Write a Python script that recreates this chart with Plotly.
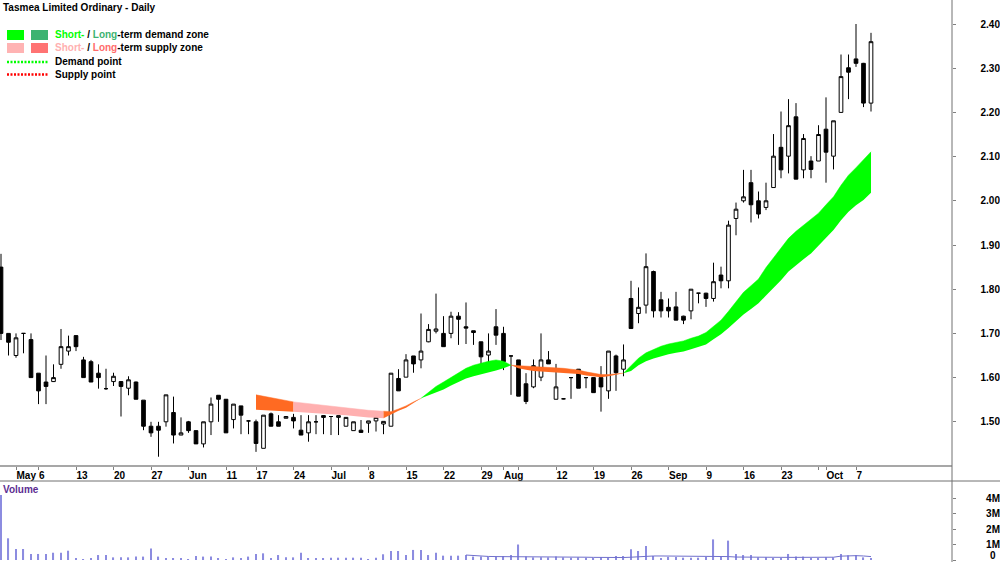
import plotly.graph_objects as go
import pandas as pd

# ---------------- data ----------------
dates = [d.strftime('%Y-%m-%d') for d in pd.bdate_range('2019-04-29', '2019-10-09')
         if d.strftime('%Y-%m-%d') != '2019-06-10']

open_ = [1.85, 1.70, 1.65, 1.70, 1.686, 1.61, 1.59, 1.591, 1.63, 1.66,
         1.695, 1.64, 1.636, 1.61, 1.575, 1.591, 1.591, 1.576, 1.59, 1.549,
         1.49, 1.49, 1.50, 1.521, 1.47, 1.50, 1.48, 1.45, 1.50, 1.56,
         1.551, 1.505, 1.536, 1.502, 1.50, 1.44, 1.518, 1.50, 1.508, 1.51,
         1.481, 1.475, 1.50, 1.514, 1.512, 1.51, 1.49, 1.48, 1.481, 1.497,
         1.502, 1.495, 1.49, 1.598, 1.601, 1.649, 1.64, 1.681, 1.705, 1.70,
         1.70, 1.739, 1.715, 1.706, 1.681, 1.651, 1.715, 1.70, 1.649, 1.64,
         1.586, 1.579, 1.601, 1.64, 1.551, 1.552, 1.60, 1.619, 1.60, 1.60,
         1.60, 1.57, 1.649, 1.619, 1.779, 1.745, 1.764, 1.84, 1.776, 1.759,
         1.76, 1.739, 1.751, 1.791, 1.791, 1.779, 1.832, 1.819, 1.96, 2.00,
         2.041, 2.00, 1.985, 2.03, 2.121, 2.101, 2.19, 2.07, 2.09, 2.09,
         2.162, 2.101, 2.20, 2.301, 2.321, 2.311, 2.221]
high = [1.88, 1.70, 1.70, 1.70, 1.70, 1.61, 1.65, 1.63, 1.71, 1.695,
        1.695, 1.647, 1.64, 1.63, 1.62, 1.611, 1.592, 1.603, 1.591, 1.549,
        1.50, 1.50, 1.561, 1.557, 1.51, 1.502, 1.48, 1.50, 1.555, 1.56,
        1.551, 1.54, 1.536, 1.502, 1.505, 1.515, 1.521, 1.515, 1.512, 1.518,
        1.515, 1.515, 1.515, 1.515, 1.512, 1.514, 1.51, 1.50, 1.504, 1.502,
        1.51, 1.501, 1.61, 1.619, 1.653, 1.649, 1.745, 1.721, 1.79, 1.739,
        1.749, 1.748, 1.77, 1.706, 1.681, 1.70, 1.755, 1.715, 1.649, 1.64,
        1.61, 1.641, 1.70, 1.66, 1.631, 1.553, 1.60, 1.619, 1.60, 1.60,
        1.626, 1.66, 1.652, 1.675, 1.819, 1.804, 1.881, 1.842, 1.794, 1.779,
        1.794, 1.74, 1.80, 1.791, 1.792, 1.86, 1.851, 1.955, 1.996, 2.07,
        2.07, 2.021, 2.041, 2.151, 2.202, 2.23, 2.221, 2.151, 2.101, 2.171,
        2.234, 2.181, 2.331, 2.331, 2.40, 2.312, 2.38]
low = [1.685, 1.65, 1.645, 1.655, 1.60, 1.54, 1.54, 1.59, 1.62, 1.65,
       1.66, 1.60, 1.59, 1.575, 1.572, 1.581, 1.512, 1.56, 1.551, 1.481,
       1.466, 1.421, 1.489, 1.451, 1.47, 1.475, 1.45, 1.442, 1.47, 1.50,
       1.475, 1.485, 1.472, 1.472, 1.432, 1.44, 1.49, 1.49, 1.508, 1.485,
       1.47, 1.455, 1.472, 1.472, 1.47, 1.47, 1.49, 1.48, 1.476, 1.475,
       1.478, 1.472, 1.49, 1.57, 1.601, 1.611, 1.621, 1.68, 1.70, 1.67,
       1.689, 1.674, 1.676, 1.674, 1.627, 1.627, 1.674, 1.617, 1.561, 1.558,
       1.54, 1.576, 1.592, 1.631, 1.551, 1.551, 1.552, 1.576, 1.576, 1.566,
       1.523, 1.552, 1.57, 1.603, 1.711, 1.723, 1.745, 1.736, 1.736, 1.736,
       1.73, 1.721, 1.732, 1.768, 1.76, 1.772, 1.802, 1.802, 1.922, 1.996,
       1.951, 1.96, 1.979, 2.03, 2.051, 2.062, 2.049, 2.051, 2.051, 2.09,
       2.041, 2.071, 2.20, 2.23, 2.303, 2.212, 2.202]
close = [1.70, 1.68, 1.69, 1.70, 1.60, 1.57, 1.58, 1.60, 1.67, 1.67,
         1.67, 1.60, 1.59, 1.60, 1.575, 1.603, 1.58, 1.595, 1.551, 1.49,
         1.475, 1.481, 1.561, 1.47, 1.475, 1.48, 1.45, 1.50, 1.54, 1.551,
         1.475, 1.54, 1.515, 1.502, 1.451, 1.515, 1.49, 1.49, 1.512, 1.502,
         1.47, 1.50, 1.50, 1.51, 1.512, 1.514, 1.51, 1.50, 1.476, 1.502,
         1.51, 1.501, 1.61, 1.57, 1.64, 1.631, 1.66, 1.709, 1.71, 1.67,
         1.739, 1.732, 1.712, 1.702, 1.647, 1.66, 1.696, 1.636, 1.649, 1.558,
         1.546, 1.627, 1.64, 1.631, 1.579, 1.552, 1.60, 1.576, 1.60, 1.566,
         1.579, 1.66, 1.611, 1.64, 1.711, 1.759, 1.851, 1.751, 1.751, 1.751,
         1.73, 1.73, 1.80, 1.791, 1.779, 1.817, 1.819, 1.945, 1.981, 2.009,
         1.991, 1.97, 2.00, 2.101, 2.07, 2.17, 2.049, 2.141, 2.071, 2.15,
         2.11, 2.181, 2.281, 2.291, 2.311, 2.221, 2.36]

# volume in millions of shares
volume_m = [4.2, 1.4, 0.71, 0.71, 0.39, 0.39, 0.39, 0.47, 0.47, 0.60,
            0.11, 0.06, 0.11, 0.32, 0.32, 0.17, 0.17, 0.17, 0.22, 0.22,
            0.75, 0.22, 0.11, 0.08, 0.08, 0.05, 0.26, 0.22, 0.22, 0.11,
            0.06, 0.17, 0.08, 0.22, 0.39, 0.43, 0.11, 0.32, 0.17, 0.17,
            0.47, 0.11, 0.08, 0.08, 0.15, 0.15, 0.15, 0.15, 0.15, 0.05,
            0.15, 0.37, 0.58, 0.58, 0.32, 0.65, 0.65, 0.32, 0.47, 0.28,
            0.28, 0.28, 0.32, 0.22, 0.22, 0.22, 0.22, 0.26, 0.32, 1.0,
            0.22, 0.17, 0.17, 0.17, 0.22, 0.17, 0.15, 0.17, 0.15, 0.15,
            0.17, 0.15, 0.26, 0.26, 0.69, 0.58, 0.90, 0.26, 0.11, 0.20,
            0.20, 0.15, 0.15, 0.15, 0.20, 1.33, 0.20, 1.25, 0.39, 0.32,
            0.32, 0.17, 0.17, 0.11, 0.11, 0.39, 0.22, 0.22, 0.11, 0.11,
            0.17, 0.17, 0.39, 0.30, 0.30, 0.17, 0.11]
vol_avg_start = '2019-07-25'
vol_avg_m = [0.32, 0.28, 0.25, 0.23, 0.22, 0.22, 0.21, 0.22, 0.22, 0.21,
             0.21, 0.20, 0.20, 0.20, 0.19, 0.19, 0.18, 0.17, 0.16, 0.16,
             0.16, 0.16, 0.18, 0.22, 0.25, 0.26, 0.26, 0.26, 0.26, 0.26,
             0.26, 0.26, 0.26, 0.26, 0.26, 0.22, 0.19, 0.18, 0.17, 0.17,
             0.17, 0.17, 0.17, 0.17, 0.17, 0.17, 0.17, 0.17, 0.17, 0.18,
             0.25, 0.28, 0.28, 0.26, 0.22]

# demand / supply zone boundaries (from 2019-06-17 to 2019-10-09)
zone_start = '2019-06-17'
zone_upper = [1.561, 1.558, 1.555, 1.552, 1.548, 1.545, 1.543, 1.541, 1.539, 1.537,
              1.535, 1.534, 1.532, 1.530, 1.528, 1.526, 1.525, 1.524, 1.523, 1.529,
              1.536, 1.545, 1.553, 1.566, 1.580, 1.590, 1.601, 1.612, 1.621, 1.628,
              1.633, 1.637, 1.640, 1.637, 1.628, 1.627, 1.627, 1.626, 1.625, 1.624,
              1.623, 1.621, 1.619, 1.617, 1.613, 1.610, 1.607, 1.607, 1.609, 1.610,
              1.626, 1.644, 1.656, 1.664, 1.671, 1.676, 1.680, 1.683, 1.689, 1.694,
              1.702, 1.716, 1.730, 1.750, 1.771, 1.793, 1.808, 1.823, 1.849, 1.871,
              1.892, 1.915, 1.931, 1.945, 1.957, 1.972, 1.991, 2.009, 2.035, 2.058,
              2.075, 2.092, 2.111]
zone_lower = [1.527, 1.526, 1.526, 1.525, 1.524, 1.523, 1.522, 1.521, 1.520, 1.519,
              1.518, 1.517, 1.515, 1.513, 1.511, 1.510, 1.509, 1.508, 1.517, 1.525,
              1.532, 1.542, 1.553, 1.560, 1.567, 1.573, 1.582, 1.590, 1.598, 1.603,
              1.607, 1.612, 1.616, 1.621, 1.628, 1.621, 1.618, 1.615, 1.614, 1.613,
              1.612, 1.611, 1.610, 1.608, 1.605, 1.603, 1.601, 1.603, 1.606, 1.610,
              1.615, 1.628, 1.637, 1.643, 1.648, 1.653, 1.656, 1.659, 1.664, 1.669,
              1.675, 1.687, 1.698, 1.712, 1.727, 1.743, 1.755, 1.768, 1.786, 1.803,
              1.820, 1.840, 1.855, 1.868, 1.881, 1.898, 1.917, 1.934, 1.956, 1.975,
              1.990, 2.002, 2.018]
zone_segments = [('2019-06-17', '2019-06-24', 'long_supply'),
                 ('2019-06-24', '2019-07-10', 'short_supply'),
                 ('2019-07-10', '2019-07-17', 'long_supply'),
                 ('2019-07-17', '2019-08-02', 'demand'),
                 ('2019-08-02', '2019-08-23', 'long_supply'),
                 ('2019-08-23', '2019-10-09', 'demand')]

tick_dates = ['2019-05-01', '2019-05-06', '2019-05-13', '2019-05-20', '2019-05-27',
              '2019-06-03', '2019-06-11', '2019-06-17', '2019-06-24', '2019-07-01',
              '2019-07-08', '2019-07-15', '2019-07-22', '2019-07-29', '2019-08-01',
              '2019-08-05', '2019-08-12', '2019-08-19', '2019-08-26', '2019-09-02',
              '2019-09-09', '2019-09-16', '2019-09-23', '2019-09-30', '2019-10-01',
              '2019-10-07']
tick_labels = ['May', '6', '13', '20', '27', 'Jun', '11', '17', '24', 'Jul',
               '8', '15', '22', '29', 'Aug', '', '12', '19', '26', 'Sep',
               '9', '16', '23', '', 'Oct', '7']
price_ticks = [1.50, 1.60, 1.70, 1.80, 1.90, 2.00, 2.10, 2.20, 2.30, 2.40]
volume_ticks = [0, 1, 2, 3, 4]
volume_tick_labels = ['0', '1M', '2M', '3M', '4M']

# ---------------- styling ----------------
FONT = 'Liberation Sans, Arial, sans-serif'
FS = 10
W, H = 1000, 562
zone_colors = {'long_supply': '#ff6a22', 'short_supply': '#ffb0b0', 'demand': '#00ff00'}


def px(x):
    return x / W


def py(y):
    return 1 - y / H


PRICE_RANGE = [1.40, 2.4543]
VOL_RANGE = [-0.129, 5.097]

fig = go.Figure()

# zone bands
z0 = dates.index(zone_start)
zone_dates = dates[z0:z0 + len(zone_upper)]
for s, e, kind in zone_segments:
    a, b = zone_dates.index(s), zone_dates.index(e) + 1
    xs = zone_dates[a:b]
    lo = [min(u, l) for u, l in zip(zone_upper[a:b], zone_lower[a:b])]
    hi = [max(u, l) for u, l in zip(zone_upper[a:b], zone_lower[a:b])]
    fig.add_trace(go.Scatter(x=xs, y=lo, mode='lines', line=dict(width=0, color=zone_colors[kind]),
                             hoverinfo='skip', xaxis='x', yaxis='y'))
    fig.add_trace(go.Scatter(x=xs, y=hi, mode='lines', line=dict(width=0.5, color=zone_colors[kind]),
                             fill='tonexty', fillcolor=zone_colors[kind],
                             hoverinfo='skip', xaxis='x', yaxis='y'))

# candles
fig.add_trace(go.Candlestick(
    x=dates, open=open_, high=high, low=low, close=close,
    increasing=dict(fillcolor='white', line=dict(color='black', width=1)),
    decreasing=dict(fillcolor='black', line=dict(color='black', width=1)),
    whiskerwidth=0, xaxis='x', yaxis='y'))

# volume
fig.add_trace(go.Bar(x=dates, y=volume_m, width=0.15, marker=dict(color='#8c8ce0', line=dict(width=0)),
                     xaxis='x', yaxis='y2'))
va = dates.index(vol_avg_start)
fig.add_trace(go.Scatter(x=dates[va:va + len(vol_avg_m)], y=vol_avg_m, mode='lines',
                         line=dict(color='#7070cc', width=1), xaxis='x', yaxis='y2'))

# invisible traces so the label axes render
fig.add_trace(go.Scatter(x=[dates[0]], y=[2.0], mode='markers', marker=dict(opacity=0),
                         hoverinfo='skip', xaxis='x', yaxis='y3'))
fig.add_trace(go.Scatter(x=[dates[0]], y=[1.0], mode='markers', marker=dict(opacity=0),
                         hoverinfo='skip', xaxis='x', yaxis='y4'))

tickfont = dict(family=FONT, size=FS, color='black', weight='bold')

fig.update_layout(
    width=W, height=H, margin=dict(l=0, r=0, t=0, b=0),
    paper_bgcolor='white', plot_bgcolor='white', showlegend=False,
    xaxis=dict(type='category', categoryorder='array', categoryarray=dates,
               domain=[0, px(952)], range=[-0.133, 126.8], anchor='y',
               tickmode='array', tickvals=tick_dates, ticktext=tick_labels,
               ticks='outside', ticklen=3, tickcolor='#808080', tickwidth=1,
               ticklabelposition='outside right', tickfont=tickfont, tickangle=0,
               showgrid=False, zeroline=False, showline=False,
               rangeslider=dict(visible=False)),
    yaxis=dict(domain=[py(466), 1], range=PRICE_RANGE, side='right', anchor='x',
               tickmode='array', tickvals=price_ticks, ticks='outside', ticklen=3,
               tickcolor='#808080', showticklabels=False, showgrid=False, zeroline=False,
               showline=False),
    yaxis2=dict(domain=[0, py(481)], range=VOL_RANGE, side='right', anchor='x',
                tickmode='array', tickvals=volume_ticks, ticks='outside', ticklen=3,
                tickcolor='#808080', showticklabels=False, showgrid=False, zeroline=False,
                showline=False),
    yaxis3=dict(overlaying='y', anchor='free', position=1.0, side='left', range=PRICE_RANGE,
                tickmode='array', tickvals=price_ticks,
                ticktext=['%.2f' % v for v in price_ticks], ticks='', tickfont=tickfont,
                showgrid=False, zeroline=False, showline=False, automargin=False),
    yaxis4=dict(overlaying='y2', anchor='free', position=1.0, side='left', range=VOL_RANGE,
                tickmode='array', tickvals=volume_ticks[1:], ticktext=volume_tick_labels[1:],
                ticks='', tickfont=tickfont,
                showgrid=False, zeroline=False, showline=False, automargin=False),
)

shapes = [
    dict(type='line', xref='paper', yref='paper', x0=0, x1=px(952), y0=py(466), y1=py(466),
         line=dict(color='#8a8a8a', width=1.5)),
    dict(type='line', xref='paper', yref='paper', x0=0, x1=1, y0=py(481), y1=py(481),
         line=dict(color='#707070', width=1)),
    dict(type='line', xref='paper', yref='paper', x0=px(952), x1=px(952), y0=0, y1=1,
         line=dict(color='#707070', width=1)),
    # legend swatches
    dict(type='rect', xref='paper', yref='paper', x0=px(7), x1=px(24), y0=py(40), y1=py(30),
         fillcolor='#00ff00', line=dict(width=0)),
    dict(type='rect', xref='paper', yref='paper', x0=px(31), x1=px(48), y0=py(40), y1=py(30),
         fillcolor='#3cb371', line=dict(width=0)),
    dict(type='rect', xref='paper', yref='paper', x0=px(7), x1=px(24), y0=py(53), y1=py(43),
         fillcolor='#ffb3b3', line=dict(width=0)),
    dict(type='rect', xref='paper', yref='paper', x0=px(31), x1=px(48), y0=py(53), y1=py(43),
         fillcolor='#ff7373', line=dict(width=0)),
    dict(type='line', xref='paper', yref='paper', x0=px(7), x1=px(48), y0=py(62), y1=py(62),
         line=dict(color='#00ff00', width=2.5, dash='2px,1.5px')),
    dict(type='line', xref='paper', yref='paper', x0=px(7), x1=px(48), y0=py(74.5), y1=py(74.5),
         line=dict(color='#ff0000', width=2.5, dash='2px,1.5px')),
]
fig.update_layout(shapes=shapes)

ann_font = dict(family=FONT, size=FS, color='black', weight='bold')
annotations = [
    dict(text='Tasmea Limited Ordinary - Daily', x=px(1), y=py(8)),
    dict(text='<span style="color:#00ff00">Short-</span> / <span style="color:#3cb371">Long</span>-term demand zone',
         x=px(53), y=py(35)),
    dict(text='<span style="color:#ffb0b0">Short-</span> / <span style="color:#ff6b6b">Long</span>-term supply zone',
         x=px(53), y=py(48)),
    dict(text='Demand point', x=px(53), y=py(62)),
    dict(text='Supply point', x=px(53), y=py(75)),
]
for a in annotations:
    a.update(xref='paper', yref='paper', xanchor='left', yanchor='middle', showarrow=False,
             font=ann_font)
annotations.append(dict(text='Volume', x=px(1), y=py(489), xref='paper', yref='paper',
                        xanchor='left', yanchor='middle', showarrow=False,
                        font=dict(family=FONT, size=FS, color='#5c2d91', weight='bold')))
# zero label of the volume scale, kept just inside the bottom edge
annotations.append(dict(text=volume_tick_labels[0], x=px(997), y=0,
                        xref='paper', yref='paper', xanchor='right', yanchor='bottom',
                        showarrow=False, font=tickfont, borderpad=0))
fig.update_layout(annotations=annotations)

fig.write_html('out.html')
